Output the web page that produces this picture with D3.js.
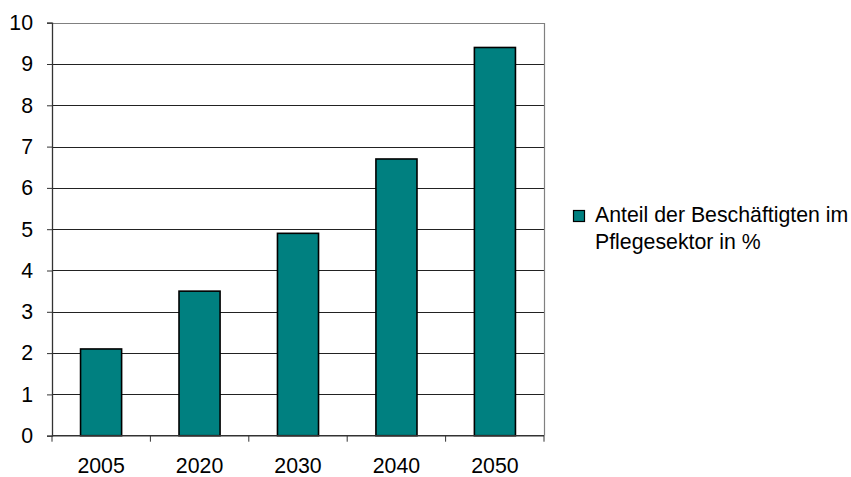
<!DOCTYPE html>
<html>
<head>
<meta charset="utf-8">
<script src="https://cdn.jsdelivr.net/npm/d3@7"></script>
<style>
  html, body { margin: 0; padding: 0; background: #fff; }
  svg { display: block; font-family: "Liberation Sans", Arial, sans-serif; }
</style>
</head>
<body>
<svg id="chart" width="851" height="477"></svg>
<script>
// Share of employees in the care sector, by year
const years = ["2005", "2020", "2030", "2040", "2050"];
const shares = [2.1, 3.5, 4.9, 6.7, 9.4];
const yTicks = [0, 1, 2, 3, 4, 5, 6, 7, 8, 9, 10];
const seriesName = ["Anteil der Beschäftigten im", "Pflegesektor in %"];

const fontSize = 21.3;
const svg = d3.select("#chart");
const plot = { left: 52, right: 544, top: 22.7, bottom: 435.7 };

const x = d3.scaleBand()
  .domain(years)
  .range([plot.left, plot.right])
  .paddingInner(0.583)
  .paddingOuter(0.29);

const y = d3.scaleLinear()
  .domain([0, 10])
  .range([plot.bottom, plot.top]);

// horizontal gridlines
svg.append("g")
  .selectAll("line")
  .data(yTicks.filter(d => d > 0 && d < 10))
  .join("line")
  .attr("x1", plot.left)
  .attr("x2", plot.right)
  .attr("y1", d => Math.round(y(d)) + 0.5)
  .attr("y2", d => Math.round(y(d)) + 0.5)
  .attr("stroke", "#222")
  .attr("stroke-width", 1);

// plot area border (top and right)
svg.append("path")
  .attr("d", `M${plot.left},${Math.round(plot.top) + 0.5}H${Math.round(plot.right) + 0.5}V${plot.bottom}`)
  .attr("fill", "none")
  .attr("stroke", "#808080")
  .attr("stroke-width", 1.2);

// bars
svg.append("g")
  .selectAll("rect")
  .data(years.map((yr, i) => ({ yr, v: shares[i] })))
  .join("rect")
  .attr("x", d => x(d.yr))
  .attr("width", x.bandwidth())
  .attr("y", d => y(d.v))
  .attr("height", d => y(0) - y(d.v))
  .attr("fill", "#008080")
  .attr("stroke", "#000")
  .attr("stroke-width", 1.6);

// y axis
const yAxis = d3.axisLeft(y).tickValues(yTicks).tickSize(5).tickPadding(14);
const gy = svg.append("g")
  .attr("transform", `translate(${plot.left},0)`)
  .call(yAxis);
gy.select(".domain").attr("stroke", "#333").attr("stroke-width", 1.3);
gy.selectAll(".tick line").attr("stroke", "#333");
gy.selectAll("text").attr("font-size", fontSize).attr("fill", "#000")
  .attr("font-family", "Liberation Sans, Arial, sans-serif");

// x axis: ticks on the category boundaries
const gx = svg.append("g")
  .attr("transform", `translate(0,${plot.bottom})`);
gx.append("line")
  .attr("x1", plot.left).attr("x2", plot.right)
  .attr("stroke", "#333").attr("stroke-width", 1.6);
const bounds = d3.range(years.length + 1).map(i => plot.left + i * (plot.right - plot.left) / years.length);
gx.selectAll("line.b")
  .data(bounds)
  .join("line")
  .attr("class", "b")
  .attr("x1", d => d).attr("x2", d => d)
  .attr("y1", 0).attr("y2", 6)
  .attr("stroke", "#333");
gx.selectAll("text")
  .data(years)
  .join("text")
  .attr("x", d => x(d) + x.bandwidth() / 2)
  .attr("y", 37.6)
  .attr("text-anchor", "middle")
  .attr("font-size", fontSize)
  .text(d => d);

// legend
const lg = svg.append("g").attr("transform", "translate(573,210)");
lg.append("rect")
  .attr("x", 0.5).attr("y", 0.5)
  .attr("width", 11).attr("height", 11)
  .attr("fill", "#008080").attr("stroke", "#000").attr("stroke-width", 1.2);
lg.selectAll("text")
  .data(seriesName)
  .join("text")
  .attr("x", 22)
  .attr("y", (d, i) => 11.7 + i * 27.6)
  .attr("font-size", fontSize)
  .text(d => d);
</script>
</body>
</html>
